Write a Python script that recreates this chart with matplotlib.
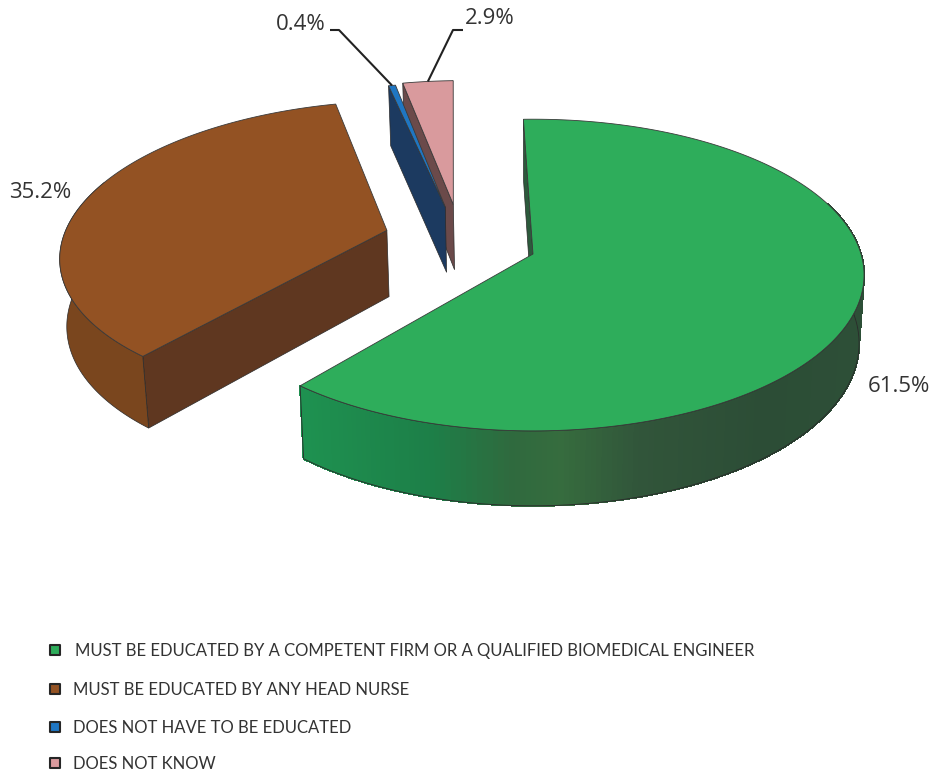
import numpy as np
import matplotlib
matplotlib.use("Agg")
import matplotlib.pyplot as plt
from matplotlib.collections import PolyCollection
from matplotlib.colors import to_rgb

# Survey shares, in percent
categories = [
    "MUST BE EDUCATED BY A COMPETENT FIRM OR A QUALIFIED BIOMEDICAL ENGINEER",
    "MUST BE EDUCATED BY ANY HEAD NURSE",
    "DOES NOT HAVE TO BE EDUCATED",
    "DOES NOT KNOW",
]
shares = [61.5, 35.2, 0.4, 2.9]
share_labels = ["61.5%", "35.2%", "0.4%", "2.9%"]

# Slice styling
top_colors = ["#2EAD5B", "#935223", "#1F76C2", "#D99A9D"]
cut_colors = ["#2C5A3C", "#5F3720", "#1C3A60", "#6B4A4A"]
explode_x = [0.0, -0.455, -0.279, -0.254]
explode_y = [0.0, -0.158, -0.32, -0.338]
START_ANGLE = -1.9

# Camera for the tilted pie
CX, CY = 533.0, 254.0
RX, RY = 328.0, 153.0
PERSPECTIVE = 0.135


def project(x, y, lowered=False):
    """Map disc coordinates to the canvas; lowered gives the underside of the pie."""
    x, y = np.asarray(x, float), np.asarray(y, float)
    denom = 1.0 - PERSPECTIVE * y
    sx = CX + RX * x / denom
    sy = CY + RY * y / denom
    if lowered:
        sx = CX + 0.985 * (sx - CX)
        sy = sy + 60.0 + 0.043 * (sy - 84.0)
    return sx, sy


def rim(angles, dx, dy, lowered=False):
    # Angles run clockwise from twelve o'clock; disc y grows towards the viewer
    rad = np.radians(angles)
    return project(np.sin(rad) + dx, -np.cos(rad) + dy, lowered)


def wall_color(x):
    # Shading across the curved wall of the largest slice
    stops_x = [304, 430, 510, 560, 640, 760, 864]
    stops_c = ["#1E9150", "#1D7F48", "#2F6A3E", "#366C3E", "#31553A", "#2C4D36", "#2D4F37"]
    rgb = np.array([to_rgb(c) for c in stops_c])
    return tuple(np.interp(x, stops_x, rgb[:, i]) for i in range(3))


fig = plt.figure(figsize=(9.33, 7.73), dpi=100)
ax = fig.add_axes([0, 0, 1, 1])
ax.set_xlim(0, 933)
ax.set_ylim(773, 0)
ax.axis("off")

EDGE = "#2a2a2a"
fractions = np.array(shares) / sum(shares)
bounds = START_ANGLE + np.concatenate([[0], np.cumsum(fractions)]) * 360.0

# Draw from the back slices forwards; the two small slices overlap each other
order = [3, 2, 1, 0]
for i in order:
    a0, a1 = bounds[i], bounds[i + 1]
    dx, dy = explode_x[i], explode_y[i]
    z = 2 + (3 - i)

    # Cut face along the leading edge of the slice
    ax0, ay0 = project(dx, dy)
    bx0, by0 = project(dx, dy, lowered=True)
    rx0, ry0 = rim(a0, dx, dy)
    sx0, sy0 = rim(a0, dx, dy, lowered=True)
    ax.fill([ax0, rx0, sx0, bx0], [ay0, ry0, sy0, by0], facecolor=cut_colors[i],
            edgecolor=EDGE, linewidth=0.5, zorder=z)

    # Curved outer wall, only where it faces the viewer
    w0, w1 = max(a0, 70.0), min(a1, 290.0)
    if w1 > w0:
        ang = np.linspace(w0, w1, 181)
        tx, ty = rim(ang, dx, dy)
        bx, by = rim(ang, dx, dy, lowered=True)
        if i == 0:
            quads = [[(tx[k], ty[k]), (tx[k + 1], ty[k + 1]), (bx[k + 1], by[k + 1]), (bx[k], by[k])]
                     for k in range(len(ang) - 1)]
            cols = [wall_color(0.5 * (tx[k] + tx[k + 1])) for k in range(len(ang) - 1)]
            ax.add_collection(PolyCollection(quads, facecolors=cols, edgecolors=cols,
                                             linewidths=0.8, antialiaseds=False, zorder=z))
            ax.fill(np.r_[tx, bx[::-1]], np.r_[ty, by[::-1]], facecolor="none",
                    edgecolor=EDGE, linewidth=0.6, zorder=z)
        else:
            ax.fill(np.r_[tx, bx[::-1]], np.r_[ty, by[::-1]], facecolor="#7A461E",
                    edgecolor=EDGE, linewidth=0.5, zorder=z)

    # Top face
    ang = np.linspace(a0, a1, 240)
    tx, ty = rim(ang, dx, dy)
    ax.fill(np.r_[ax0, tx], np.r_[ay0, ty], facecolor=top_colors[i],
            edgecolor="#3a3a3a", linewidth=0.6, zorder=z + 0.5)

# Percentage labels
LABEL_FONT = ["Open Sans", "DejaVu Sans"]
label_pos = [(899, 386), (40, 192), (301, 24), (490, 19)]
for text, (x, y) in zip(share_labels, label_pos):
    ax.text(x, y, text, ha="center", va="center", fontsize=16, color="#333333",
            family=LABEL_FONT, zorder=10)

# Leader lines for the two small slices
for i, start, elbow in [(2, 330, 339), (3, 463, 453)]:
    mid = 0.5 * (bounds[i] + bounds[i + 1])
    tipx, tipy = rim(mid, explode_x[i], explode_y[i])
    ax.plot([start, elbow, tipx], [30, 30, tipy], color="#222222", linewidth=1.5, zorder=9,
            solid_capstyle="butt")

# Legend
legend_y = [651, 690, 728, 764]
legend_text_x = [75, 73, 73, 73]
for text, color, y, x in zip(categories, top_colors, legend_y, legend_text_x):
    ax.scatter([55], [y - 1], marker="s", s=62, facecolor=color, edgecolor="#262626",
               linewidth=1.5, zorder=10)
    ax.text(x, y, text, ha="left", va="center", fontsize=11.95, color="#333333",
            family=["Lato", "DejaVu Sans"], zorder=10)

fig.savefig("out.png", dpi=100, facecolor="white")
